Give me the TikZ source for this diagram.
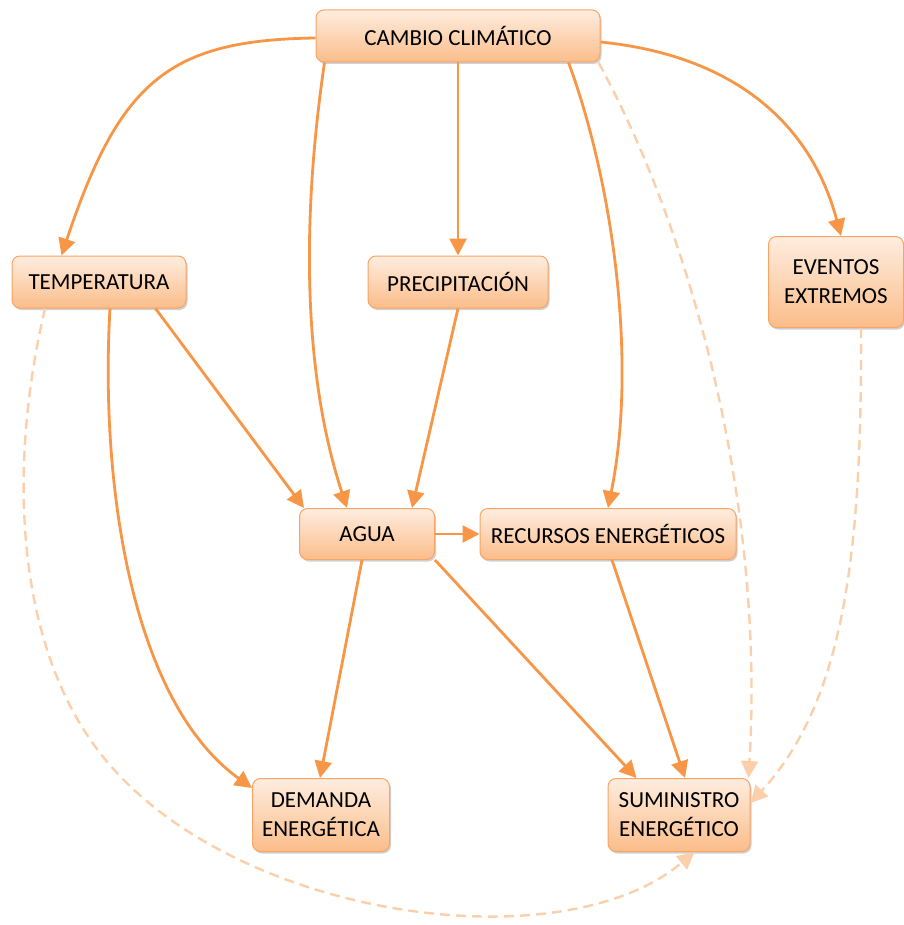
\documentclass[tikz,border=0pt]{standalone}
\usepackage{fontspec}
\setmainfont{Carlito}
\usetikzlibrary{arrows.meta,shadows,calc}
\definecolor{edgec}{HTML}{F79646}
\definecolor{dashc}{HTML}{FBCFAA}
\definecolor{ntop}{HTML}{FEEDDF}
\definecolor{nbot}{HTML}{FBBD8A}
\definecolor{nborder}{HTML}{F8A466}
\begin{document}
\begin{tikzpicture}[x=1pt,y=-1pt,
  box/.style={draw=nborder, line width=1pt, rounded corners=8pt,
    top color=ntop, bottom color=nbot, text=black,
    font=\fontsize{23}{29}\selectfont, align=center, inner sep=0pt,
    drop shadow={shadow xshift=1.5pt, shadow yshift=-2pt, opacity=0.3, fill=black!60}},
  conn/.style={draw=edgec, line width=2.8pt, -{Triangle[length=17pt,width=17pt]}},
  dconn/.style={draw=dashc, line width=2.4pt, dash pattern=on 10pt off 6pt,
    -{Triangle[length=17pt,width=17pt]}}]
\useasboundingbox (0,0) rectangle (903,925);

\node[box, minimum width=284pt, minimum height=52pt] (cc) at (458,36) {CAMBIO CLIMÁTICO};
\node[box, minimum width=174pt, minimum height=52pt] (temp) at (99,282) {TEMPERATURA};
\node[box, minimum width=180pt, minimum height=52pt] (prec) at (458,282) {PRECIPITACIÓN};
\node[box, minimum width=135pt, minimum height=91pt] (ev) at (836,282) {EVENTOS\\EXTREMOS};
\node[box, minimum width=135pt, minimum height=51pt] (agua) at (367,534) {AGUA};
\node[box, minimum width=256pt, minimum height=51pt] (rec) at (608,534) {RECURSOS ENERGÉTICOS};
\node[box, minimum width=137pt, minimum height=73pt] (dem) at (321,815) {DEMANDA\\ENERGÉTICA};
\node[box, minimum width=142pt, minimum height=73pt] (sum) at (679,815) {SUMINISTRO\\ENERGÉTICO};

% dashed (drawn first, behind)
\draw[dconn] ([xshift=-2pt]cc.south east) .. controls (690,230) and (765,500) .. ([xshift=-2pt]sum.north east);
\draw[dconn] ([xshift=-54pt]temp.south) .. controls (5,480) and (20,650) .. (100,753)
   .. controls (228,918) and (560,965) .. ([xshift=87pt]sum.south west);
\draw[dconn] ([xshift=25pt]ev.south) .. controls (862,550) and (845,700) .. ([yshift=-25pt]sum.north east);

% solid
\draw[conn] ([yshift=-2pt]cc.west) .. controls (170,40) and (120,80) .. ([xshift=50pt]temp.north west);
\draw[conn] ([xshift=9pt]cc.south west) .. controls (300,230) and (305,380) .. ([xshift=48pt]agua.north west);
\draw[conn] (cc.south) -- (prec.north);
\draw[conn] ([xshift=-32pt]cc.south east) .. controls (612,180) and (638,360) .. (rec.north);
\draw[conn] ([yshift=-6pt]cc.east) .. controls (730,55) and (810,120) .. ([xshift=5pt]ev.north);
\draw[conn] ([xshift=-31pt]temp.south east) -- ([xshift=5pt]agua.north west);
\draw[conn] ([xshift=11pt]temp.south) .. controls (100,480) and (130,700) .. ([yshift=-10pt]dem.north west);
\draw[conn] (prec.south) -- ([xshift=-23pt]agua.north east);
\draw[conn] (agua.east) -- (rec.west);
\draw[conn] ([xshift=-5pt]agua.south) -- ([xshift=-1pt]dem.north);
\draw[conn] (agua.south east) -- ([xshift=29pt]sum.north west);
\draw[conn] ([xshift=4pt]rec.south) -- ([xshift=6pt]sum.north);
\end{tikzpicture}
\end{document}
